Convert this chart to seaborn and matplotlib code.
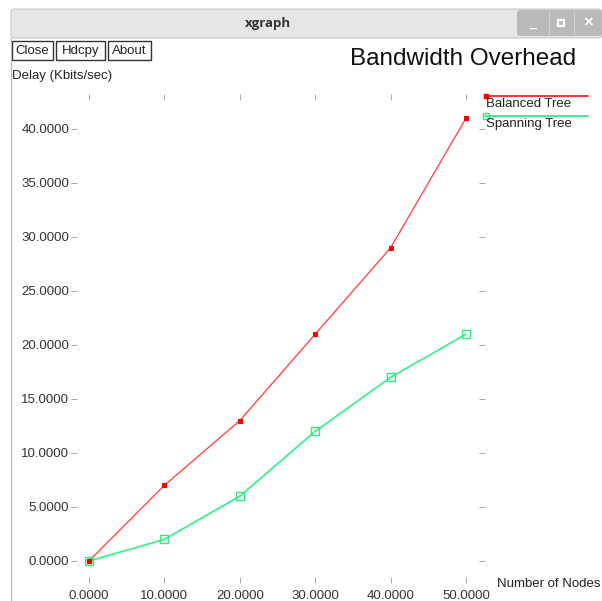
import matplotlib
matplotlib.use("Agg")
import matplotlib.pyplot as plt
from matplotlib.patches import Rectangle, FancyBboxPatch
from matplotlib.lines import Line2D
import numpy as np
import pandas as pd
import seaborn as sns

# Data series
nodes = [0, 10, 20, 30, 40, 50]
balanced_tree = [0, 7, 13, 21, 29, 41]
spanning_tree = [0, 2, 6, 12, 17, 21]
series_names = ["Balanced Tree", "Spanning Tree"]
x_ticks = [0, 10, 20, 30, 40, 50]
y_ticks = [0, 5, 10, 15, 20, 25, 30, 35, 40]

sns.set_style("white")
plt.rcParams["font.family"] = ["Liberation Sans", "DejaVu Sans"]

W, H = 602, 601
fig = plt.figure(figsize=(W / 100, H / 100), dpi=100)
fig.patch.set_facecolor("white")


def fx(px):
    return px / W


def fy(py):
    return 1 - py / H


# Window frame: title bar, control buttons, left border
fig.add_artist(FancyBboxPatch((fx(11), fy(38)), fx(602) - fx(11), fy(9) - fy(38),
                              boxstyle="round,pad=0,rounding_size=0.006",
                              transform=fig.transFigure, facecolor="#e6e6e6",
                              edgecolor="#c8c8c8", linewidth=0.8, zorder=1))
fig.add_artist(FancyBboxPatch((fx(517), fy(36)), fx(602) - fx(517), fy(10) - fy(36),
                              boxstyle="round,pad=0,rounding_size=0.005",
                              transform=fig.transFigure, facecolor="#b9b9b9",
                              edgecolor="none", zorder=2))
for sx in (549, 574):
    fig.add_artist(Line2D([fx(sx), fx(sx)], [fy(11), fy(35)], transform=fig.transFigure,
                          color="#cfcfcf", linewidth=0.8, zorder=3))
fig.text(fx(533), fy(24), "_", color="white", fontsize=9, fontweight="bold",
         ha="center", va="center", zorder=4)
fig.add_artist(Rectangle((fx(558), fy(26)), fx(6), fy(20) - fy(26), transform=fig.transFigure,
                         facecolor="none", edgecolor="white", linewidth=1.6, zorder=4))
fig.text(fx(588), fy(23), "×", color="white", fontsize=12, fontweight="bold",
         ha="center", va="center", zorder=4)
fig.text(fx(268), fy(23), "xgraph", color="#2e3436", fontsize=9.5, fontweight="bold",
         family=["Open Sans", "DejaVu Sans"], ha="center", va="center")
fig.add_artist(Line2D([fx(10.5), fx(10.5)], [fy(38), 0], transform=fig.transFigure,
                      color="#b8b8b8", linewidth=0.8))

# xgraph buttons
for label, x0, x1 in (("Close", 12, 53), ("Hdcpy", 56, 105), ("About", 108, 151)):
    fig.add_artist(Rectangle((fx(x0), fy(60)), fx(x1 - x0), fy(41) - fy(60),
                             transform=fig.transFigure, facecolor="white",
                             edgecolor="#333333", linewidth=1.0))
    fig.text(fx((x0 + x1) / 2), fy(51), label, fontsize=9.5, color="#222222",
             ha="center", va="center")

fig.text(fx(350), fy(59), "Bandwidth Overhead", fontsize=17.5, color="#111111",
         ha="left", va="center")
fig.text(fx(12), fy(76), "Delay (Kbits/sec)", fontsize=9.5, color="#222222",
         ha="left", va="center")
fig.text(fx(497), fy(584), "Number of Nodes", fontsize=9.5, color="#222222",
         ha="left", va="center")

# Plot area
ax = fig.add_axes([fx(74), fy(580), fx(482) - fx(74), fy(97) - fy(580)])
ax.set_facecolor("none")
df = pd.DataFrame({"nodes": nodes, "balanced": balanced_tree, "spanning": spanning_tree})
sns.lineplot(data=df, x="nodes", y="balanced", ax=ax, color="#ff4a4a", linewidth=1.0,
             marker="s", markersize=2.5, markerfacecolor="#ff0000",
             markeredgecolor="#ff0000", label=series_names[0], legend=False)
sns.lineplot(data=df, x="nodes", y="spanning", ax=ax, color="#3ef08e", linewidth=1.3,
             marker="s", markersize=5.5, markerfacecolor="none",
             markeredgecolor="#2ee883", markeredgewidth=1.0,
             label=series_names[1], legend=False)
# first point of the balanced tree drawn on top
ax.plot(nodes[:1], balanced_tree[:1], "s", color="#d01010", markersize=3, zorder=5)

ax.set_xlim(-1.99, 52.12)
ax.set_ylim(-1.76, 42.96)
ax.set_xticks(x_ticks)
ax.set_yticks(y_ticks)
ax.set_xticklabels([f"{v:.4f}" for v in x_ticks])
ax.set_yticklabels([f"{v:.4f}" for v in y_ticks])
ax.set_xlabel("")
ax.set_ylabel("")
for s in ax.spines.values():
    s.set_visible(False)
ax.tick_params(axis="both", which="both", direction="inout", length=5, width=0.6,
               color="#9a9a9a", labelsize=9.5, labelcolor="#333333",
               left=True, right=True, top=True, bottom=True,
               labelleft=True, labelbottom=True, labelright=False, labeltop=False)
ax.tick_params(axis="y", pad=1)
ax.tick_params(axis="x", pad=5)

# Legend drawn in xgraph's style, beside the plot
for yy, col, name, mk in ((96, "#ff3030", series_names[0], dict(marker="s", markersize=3,
                                                                 markerfacecolor="#ff0000",
                                                                 markeredgecolor="#ff0000")),
                          (116, "#3ef08e", series_names[1], dict(marker="s", markersize=5,
                                                                  markerfacecolor="none",
                                                                  markeredgecolor="#2ee883"))):
    fig.add_artist(Line2D([fx(485), fx(588)], [fy(yy), fy(yy)], transform=fig.transFigure,
                          color=col, linewidth=1.4))
    fig.add_artist(Line2D([fx(486)], [fy(yy)], transform=fig.transFigure, linestyle="none",
                          **mk))
    fig.text(fx(486), fy(yy + 8), name, fontsize=9.5, color="#222222",
             ha="left", va="center")

fig.savefig("out.png", dpi=100, facecolor="white")
